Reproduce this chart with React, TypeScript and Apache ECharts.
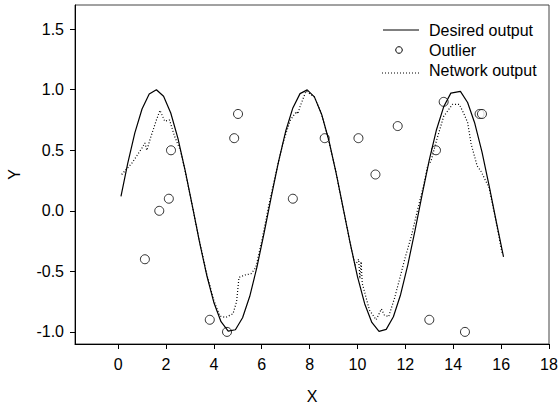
import React, { useEffect, useRef } from "react";
import * as echarts from "echarts";

const desiredX = [0.12, 0.4, 0.7, 1.0, 1.3, 1.6, 1.9, 2.2, 2.5, 2.8, 3.1, 3.4, 3.7, 4.0, 4.3, 4.6, 4.9, 5.2, 5.5, 5.8, 6.1, 6.4, 6.7, 7.0, 7.3, 7.6, 7.9, 8.2, 8.5, 8.8, 9.1, 9.4, 9.7, 10.0, 10.3, 10.6, 10.9, 11.2, 11.5, 11.8, 12.1, 12.4, 12.7, 13.0, 13.3, 13.6, 13.9, 14.3, 14.6, 14.9, 15.2, 15.5, 15.8, 16.1];
const desiredY = [0.12, 0.389, 0.644, 0.841, 0.964, 1.0, 0.946, 0.808, 0.598, 0.335, 0.042, -0.256, -0.53, -0.757, -0.916, -0.994, -0.982, -0.883, -0.706, -0.465, -0.182, 0.117, 0.405, 0.657, 0.85, 0.968, 0.999, 0.941, 0.798, 0.585, 0.319, 0.025, -0.272, -0.544, -0.767, -0.922, -0.996, -0.979, -0.875, -0.693, -0.448, -0.165, 0.134, 0.42, 0.67, 0.859, 0.972, 0.987, 0.895, 0.723, 0.487, 0.206, -0.092, -0.38];

const networkX = [0.15, 0.6, 1.0, 1.12, 1.2, 1.35, 1.6, 1.75, 1.95, 2.15, 2.35, 2.6, 2.8, 3.1, 3.4, 3.7, 4.0, 4.25, 4.5, 4.8, 4.95, 5.05, 5.3, 5.55, 5.75, 6.0, 6.3, 6.6, 6.9, 7.2, 7.45, 7.5, 7.6, 7.85, 8.2, 8.5, 8.8, 9.1, 9.4, 9.7, 9.9, 10.05, 10.1, 10.15, 10.2, 10.5, 10.78, 11.0, 11.12, 11.3, 11.55, 11.75, 12.0, 12.25, 12.5, 12.75, 12.93, 13.07, 13.3, 13.6, 13.97, 14.25, 14.45, 14.6, 14.75, 15.0, 15.15, 15.5, 15.8, 16.05];
const networkY = [0.3, 0.4, 0.52, 0.56, 0.5, 0.6, 0.75, 0.83, 0.74, 0.75, 0.62, 0.5, 0.33, 0.04, -0.25, -0.52, -0.74, -0.87, -0.88, -0.85, -0.75, -0.55, -0.53, -0.52, -0.47, -0.25, 0.05, 0.32, 0.57, 0.75, 0.82, 0.8, 0.86, 0.99, 0.94, 0.8, 0.58, 0.32, 0.02, -0.27, -0.45, -0.4, -0.56, -0.42, -0.6, -0.82, -0.9, -0.81, -0.86, -0.875, -0.72, -0.57, -0.38, -0.21, 0.0, 0.2, 0.37, 0.41, 0.58, 0.78, 0.88, 0.88, 0.8, 0.73, 0.55, 0.37, 0.33, 0.19, -0.1, -0.36];

const outlierX = [1.12, 1.72, 2.12, 2.21, 3.83, 4.55, 4.85, 5.01, 7.3, 8.63, 10.04, 10.75, 11.68, 13.0, 13.28, 13.6, 14.49, 15.1, 15.2];
const outlierY = [-0.4, 0.0, 0.1, 0.5, -0.9, -1.0, 0.6, 0.8, 0.1, 0.6, 0.6, 0.3, 0.7, -0.9, 0.5, 0.9, -1.0, 0.8, 0.8];

const xTicks = [0, 2, 4, 6, 8, 10, 12, 14, 16, 18];
const yTicks = [-1.0, -0.5, 0.0, 0.5, 1.0, 1.5];

const legendLabels = ["Desired output", "Outlier", "Network output"];

const FONT = "Liberation Sans, Arial, sans-serif";
const FS = 16;

export default function App() {
  const ref = useRef<HTMLDivElement>(null);
  useEffect(() => {
    if (!ref.current) return;
    const chart = echarts.init(ref.current, null, { renderer: "svg" });
    const zip = (xs: number[], ys: number[]) => xs.map((x, i) => [x, ys[i]]);
    chart.setOption({
      animation: false,
      backgroundColor: "#fff",
      textStyle: { fontFamily: FONT },
      grid: { left: 75, top: 5, right: 9, bottom: 61, show: true, borderColor: "#444", borderWidth: 1, containLabel: false, outerBoundsMode: "none" },
      xAxis: {
        type: "value",
        min: -1.8,
        max: 18,
        name: "X",
        nameLocation: "middle",
        nameGap: 44,
        nameTextStyle: { fontSize: FS, color: "#000", fontFamily: FONT },
        splitLine: { show: false },
        axisLine: { onZero: false, lineStyle: { color: "#000" } },
        axisTick: { show: true, length: 5, lineStyle: { color: "#000" }, customValues: xTicks },
        axisLabel: { fontSize: FS, color: "#000", margin: 12, fontFamily: FONT, customValues: xTicks, formatter: (v: number) => String(v) },
      },
      yAxis: {
        type: "value",
        min: -1.1,
        max: 1.7,
        name: "Y",
        nameLocation: "middle",
        nameGap: 53,
        nameRotate: 90,
        nameTextStyle: { fontSize: FS, color: "#000", fontFamily: FONT },
        splitLine: { show: false },
        axisLine: { show: true, onZero: false, lineStyle: { color: "#000" } },
        axisTick: { show: true, length: 5, lineStyle: { color: "#000" }, customValues: yTicks },
        axisLabel: { fontSize: FS, color: "#000", margin: 11, fontFamily: FONT, customValues: yTicks, formatter: (v: number) => v.toFixed(1) },
      },
      series: [
        {
          name: legendLabels[0],
          type: "line",
          data: zip(desiredX, desiredY),
          showSymbol: false,
          smooth: false,
          lineStyle: { color: "#000", width: 1.2 },
        },
        {
          name: legendLabels[2],
          type: "line",
          data: zip(networkX, networkY),
          showSymbol: false,
          smooth: false,
          lineStyle: { color: "#000", width: 1.2, type: [1, 2] },
        },
        {
          name: legendLabels[1],
          type: "scatter",
          data: zip(outlierX, outlierY),
          symbol: "circle",
          symbolSize: 9,
          itemStyle: { color: "#fff", borderColor: "#000", borderWidth: 1 },
        },
      ],
      graphic: [
        { type: "line", shape: { x1: 383, y1: 30, x2: 419, y2: 30 }, style: { stroke: "#000", lineWidth: 1 } },
        { type: "circle", shape: { cx: 399, cy: 50, r: 3.3 }, style: { stroke: "#000", fill: "#fff", lineWidth: 1 } },
        { type: "line", shape: { x1: 382, y1: 73, x2: 419, y2: 73 }, style: { stroke: "#000", lineWidth: 1, lineDash: [1, 2] } },
        { type: "text", x: 429, y: 30, style: { text: legendLabels[0], fontSize: FS, fontFamily: FONT, fill: "#000", verticalAlign: "middle" } },
        { type: "text", x: 429, y: 50, style: { text: legendLabels[1], fontSize: FS, fontFamily: FONT, fill: "#000", verticalAlign: "middle" } },
        { type: "text", x: 429, y: 70, style: { text: legendLabels[2], fontSize: FS, fontFamily: FONT, fill: "#000", verticalAlign: "middle" } },
      ],
    });
    return () => chart.dispose();
  }, []);
  return <div ref={ref} style={{ width: 558, height: 405, position: "absolute", left: 0, top: 0 }} />;
}
